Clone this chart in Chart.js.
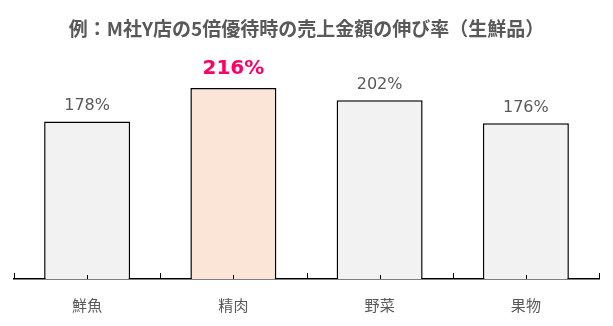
<!DOCTYPE html>
<html>
<head>
<meta charset="utf-8">
<script src="https://cdn.jsdelivr.net/npm/chart.js@4"></script>
<style>
	html, body { margin: 0; padding: 0; background: #fff; }
	#wrap { width: 613px; height: 326px; }
</style>
</head>
<body>
<div id="wrap"><canvas id="growthChart"></canvas></div>
<script>
const titleText = "例：M社Y店の5倍優待時の売上金額の伸び率（生鮮品）";
const categories = ["鮮魚", "精肉", "野菜", "果物"];
const growthRates = [178, 216, 202, 176];
const highlightIndex = 1;

// labels above each bar, highlighted one in bold red
const barLabels = {
	id: "barLabels",
	afterDatasetsDraw(chart) {
		const ctx = chart.ctx;
		const meta = chart.getDatasetMeta(0);
		ctx.save();
		ctx.textAlign = "center";
		ctx.textBaseline = "alphabetic";
		meta.data.forEach((bar, i) => {
			const text = growthRates[i] + "%";
			if (i === highlightIndex) {
				ctx.font = "bold 20px 'DejaVu Sans'";
				ctx.fillStyle = "#FF0066";
				ctx.fillText(text, bar.x, bar.y - 13.5);
			} else {
				ctx.font = "16px 'DejaVu Sans'";
				ctx.fillStyle = "#595959";
				ctx.fillText(text, bar.x, bar.y - 11.5);
			}
		});
		ctx.restore();
	}
};

// small upward tick marks on the category axis
const axisTicks = {
	id: "axisTicks",
	afterDraw(chart) {
		const ctx = chart.ctx;
		const x = chart.scales.x;
		const y0 = chart.chartArea.bottom;
		const half = (x.getPixelForValue(1) - x.getPixelForValue(0)) / 2;
		ctx.save();
		ctx.strokeStyle = "#000";
		ctx.lineWidth = 1;
		ctx.beginPath();
		for (let i = 0; i < categories.length; i++) {
			const cx = Math.round(x.getPixelForValue(i)) + 0.5;
			ctx.moveTo(cx, y0);
			ctx.lineTo(cx, y0 - 4);
		}
		for (let i = 0; i <= categories.length; i++) {
			const bx = Math.round(x.getPixelForValue(0) - half + i * half * 2) + 0.5;
			ctx.moveTo(bx, y0);
			ctx.lineTo(bx, y0 - 6);
		}
		ctx.stroke();
		ctx.restore();
	}
};

const ctx = document.getElementById("growthChart").getContext("2d");
new Chart(ctx, {
	type: "bar",
	data: {
		labels: categories,
		datasets: [{
			data: growthRates,
			backgroundColor: growthRates.map((v, i) => i === highlightIndex ? "#FBE5D6" : "#F2F2F2"),
			borderColor: "#000",
			borderWidth: 1.5,
			borderSkipped: "bottom",
			barPercentage: 0.588,
			categoryPercentage: 1
		}]
	},
	options: {
		responsive: true,
		maintainAspectRatio: false,
		animation: false,
		layout: {
			padding: { left: 14, right: 14, top: 0, bottom: 0 }
		},
		plugins: {
			legend: { display: false },
			tooltip: { enabled: false },
			title: {
				display: true,
				text: titleText,
				color: "#595959",
				font: { family: "'Noto Sans CJK JP'", size: 19, weight: "bold", lineHeight: 1.2 },
				padding: { top: 17.5, bottom: 17.5 }
			}
		},
		scales: {
			x: {
				grid: { display: false, drawTicks: false, tickLength: 0 },
				border: { display: true, color: "#000", width: 1.5 },
				ticks: {
					color: "#595959",
					padding: 17,
					font: { family: "'Noto Sans CJK JP'", size: 15, lineHeight: 1.2 }
				},
				afterFit(scale) {
					scale.height = 47;
				}
			},
			y: {
				display: false,
				min: 0,
				max: 250
			}
		}
	},
	plugins: [barLabels, axisTicks]
});
</script>
</body>
</html>
